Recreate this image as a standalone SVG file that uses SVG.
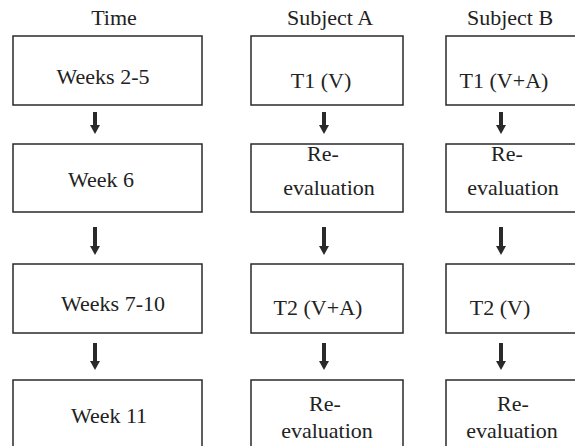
<svg xmlns="http://www.w3.org/2000/svg" width="575" height="446" viewBox="0 0 575 446">
<style>
.box{fill:#fff;stroke:#2a2a2a;stroke-width:1.5}
text{font-family:'Liberation Serif','Times New Roman','DejaVu Serif',serif;font-size:22px;fill:#222;text-anchor:middle}
.arr{stroke:#2a2a2a;stroke-width:4;fill:none}
.head{fill:#2a2a2a}
</style>
<rect width="575" height="446" fill="#fff"/>
<g id="headers" font-family="Liberation Serif, serif">
<text x="114" y="25">Time</text>
<text x="330" y="25">Subject A</text>
<text x="510" y="25">Subject B</text>
</g>
<g id="time1"><rect class="box" x="13" y="36" width="189" height="69"/><text x="103" y="84">Weeks 2-5</text></g>
<g id="time2"><rect class="box" x="13" y="144" width="189" height="68"/><text x="101" y="187">Week 6</text></g>
<g id="time3"><rect class="box" x="13" y="264" width="189" height="69"/><text x="113" y="311">Weeks 7-10</text></g>
<g id="time4"><rect class="box" x="13" y="380" width="189" height="70"/><text x="109" y="423">Week 11</text></g>
<g id="a1"><rect class="box" x="251" y="36" width="152" height="69"/><text x="321" y="88">T1 (V)</text></g>
<g id="a2"><rect class="box" x="251" y="144" width="152" height="68"/><text x="323" y="161">Re-</text><text x="329" y="195">evaluation</text></g>
<g id="a3"><rect class="box" x="251" y="264" width="152" height="69"/><text x="318" y="315">T2 (V+A)</text></g>
<g id="a4"><rect class="box" x="251" y="380" width="152" height="70"/><text x="325" y="411">Re-</text><text x="327" y="438">evaluation</text></g>
<g id="b1"><rect class="box" x="446" y="36" width="152" height="69"/><text x="504" y="88">T1 (V+A)</text></g>
<g id="b2"><rect class="box" x="446" y="144" width="152" height="68"/><text x="507" y="161">Re-</text><text x="513" y="195">evaluation</text></g>
<g id="b3"><rect class="box" x="446" y="264" width="152" height="69"/><text x="500" y="315">T2 (V)</text></g>
<g id="b4"><rect class="box" x="446" y="380" width="152" height="70"/><text x="513" y="411">Re-</text><text x="512" y="438">evaluation</text></g>
<g id="connectors">
<line class="arr" x1="95" y1="112" x2="95" y2="126"/><polygon class="head" points="90,125 100,125 95,134"/>
<line class="arr" x1="324" y1="112" x2="324" y2="126"/><polygon class="head" points="319,125 329,125 324,134"/>
<line class="arr" x1="501" y1="112" x2="501" y2="126"/><polygon class="head" points="496,125 506,125 501,134"/>
<line class="arr" x1="95" y1="227" x2="95" y2="247"/><polygon class="head" points="90,246 100,246 95,255"/>
<line class="arr" x1="324" y1="227" x2="324" y2="247"/><polygon class="head" points="319,246 329,246 324,255"/>
<line class="arr" x1="501" y1="227" x2="501" y2="247"/><polygon class="head" points="496,246 506,246 501,255"/>
<line class="arr" x1="95" y1="343" x2="95" y2="362"/><polygon class="head" points="90,361 100,361 95,370"/>
<line class="arr" x1="324" y1="343" x2="324" y2="362"/><polygon class="head" points="319,361 329,361 324,370"/>
<line class="arr" x1="501" y1="343" x2="501" y2="362"/><polygon class="head" points="496,361 506,361 501,370"/>
</g>
</svg>
